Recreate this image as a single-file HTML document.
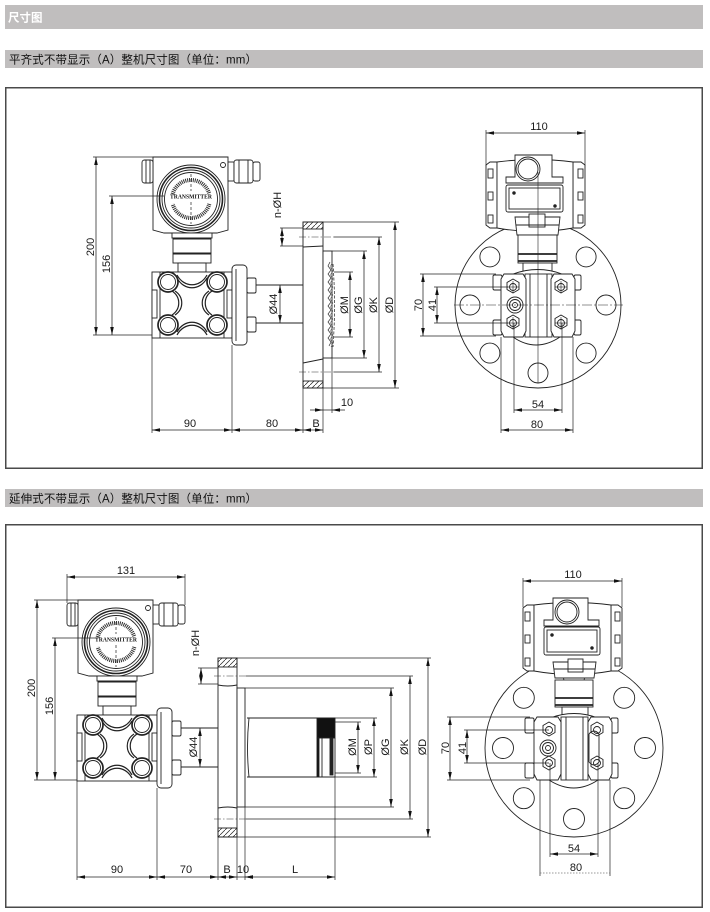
<!DOCTYPE html>
<html><head><meta charset="utf-8">
<style>
html,body{margin:0;padding:0;background:#fff;}
svg{display:block;}
.d{stroke:#222;stroke-width:.75;fill:none}
.e{stroke:#222;stroke-width:.7;fill:none}
.c{stroke:#333;stroke-width:.6;fill:none;stroke-dasharray:7 2 1.5 2}
.t{font-size:11px;fill:#1a1a1a;font-family:"Liberation Sans",sans-serif}
</style></head><body>
<svg width="710" height="912" viewBox="0 0 710 912" xmlns="http://www.w3.org/2000/svg">
<defs>
<marker id="ar" markerUnits="userSpaceOnUse" markerWidth="8" markerHeight="5" refX="8" refY="2.5" orient="auto-start-reverse"><path d="M0,0.7 L8,2.5 L0,4.3 z" fill="#111"/></marker>
<pattern id="h" patternUnits="userSpaceOnUse" width="5" height="5"><path d="M-1,6 L6,-1" stroke="#222" stroke-width="0.7"/></pattern>
</defs>
<rect width="710" height="912" fill="#fff"/>

<!-- header bars -->
<rect x="5" y="5" width="698" height="24" fill="#c0bebe"/>
<text x="8" y="21.5" font-size="11.5" font-weight="bold" fill="#fff" font-family="'Liberation Sans','Noto Sans CJK SC',sans-serif">尺寸图</text>
<rect x="5" y="50" width="698" height="18" fill="#c0bebe"/>
<text x="9" y="63.5" font-size="11.5" fill="#111" textLength="248" lengthAdjust="spacing" font-family="'Liberation Sans','Noto Sans CJK SC',sans-serif">平齐式不带显示（A）整机尺寸图（单位：mm）</text>
<rect x="5.75" y="87.75" width="696.5" height="380.5" fill="#fff" stroke="#4a4a4a" stroke-width="1.5"/>

<rect x="5" y="489" width="698" height="18" fill="#c0bebe"/>
<text x="9" y="502.5" font-size="11.5" fill="#111" textLength="248" lengthAdjust="spacing" font-family="'Liberation Sans','Noto Sans CJK SC',sans-serif">延伸式不带显示（A）整机尺寸图（单位：mm）</text>
<rect x="5.75" y="524.75" width="696.5" height="382.5" fill="#fff" stroke="#4a4a4a" stroke-width="1.5"/>

<!-- ================= DIAGRAM 1 SIDE ================= -->
<g transform="translate(153,157)" fill="#fff" stroke="#222" stroke-width="0.9">
  <path d="M0,0 H75 V73 L64,76 H11 L0,73 Z"/>
  <rect x="-11" y="3" width="11" height="23" rx="2.5"/>
  <line x1="-7" y1="3.5" x2="-7" y2="25.5"/>
  <line x1="-3" y1="3" x2="-3" y2="26"/>
  <rect x="75" y="5" width="6" height="19"/>
  <rect x="81" y="3" width="19" height="23" rx="2.5"/>
  <line x1="86" y1="3" x2="86" y2="26"/>
  <line x1="95" y1="3" x2="95" y2="26"/>
  <rect x="100" y="5" width="7" height="19" rx="2"/>
  <circle cx="70" cy="8" r="2.5"/>
  <circle cx="38" cy="42" r="34"/>
  <circle cx="38" cy="42" r="31.5" stroke-width="1.6"/>
  <circle cx="38" cy="42" r="29"/>
  <circle cx="38" cy="42" r="26.5"/>
  <path d="M19.65,37.08 A19,19 0 0 1 56.35,37.08" fill="none" stroke="#333" stroke-width="4" stroke-dasharray="1 0.9"/>
  <path d="M56.35,46.92 A19,19 0 0 1 19.65,46.92" fill="none" stroke="#333" stroke-width="4" stroke-dasharray="1 0.9"/>
  <line x1="38" y1="17" x2="38" y2="34" stroke-dasharray="3 2" stroke-width="0.7"/>
  <line x1="38" y1="45" x2="38" y2="67" stroke-dasharray="3 2" stroke-width="0.7"/>
  <text x="38" y="41.5" font-size="6.5" font-weight="bold" text-anchor="middle" fill="#111" stroke="none" textLength="42" lengthAdjust="spacingAndGlyphs" font-family="'Liberation Serif',serif">TRANSMITTER</text>
  <rect x="19" y="76" width="40" height="5"/>
  <rect x="20" y="81" width="38" height="15"/>
  <rect x="20" y="96" width="38" height="10"/>
  <line x1="20" y1="81.5" x2="58" y2="81.5" stroke-width="2"/>
  <line x1="20" y1="96.5" x2="58" y2="96.5" stroke-width="2"/>
  <rect x="25" y="106" width="28" height="9"/>
  <!-- capsule -->
  <rect x="-1" y="115" width="80" height="66"/>
  <line x1="7" y1="115" x2="7" y2="181"/>
  <line x1="71" y1="115" x2="71" y2="181"/>
  <rect x="-1" y="133" width="5" height="28"/>
  <rect x="74" y="133" width="5" height="28"/>
  <path d="M24,118 C31,131 47,131 54,118 M24,121 C31,134 47,134 54,121" fill="none" stroke-width="1.2"/>
  <path d="M24,178 C31,165 47,165 54,178 M24,175 C31,162 47,162 54,175" fill="none" stroke-width="1.2"/>
  <path d="M19,134 C28,140 28,152 19,158 M22,134 C31,140 31,152 22,158" fill="none" stroke-width="1.2"/>
  <path d="M59,134 C50,140 50,152 59,158 M56,134 C47,140 47,152 56,158" fill="none" stroke-width="1.2"/>
  <circle cx="15" cy="125" r="10" stroke-width="1.7"/><circle cx="15" cy="125" r="7.5"/>
  <circle cx="64" cy="125" r="10" stroke-width="1.7"/><circle cx="64" cy="125" r="7.5"/>
  <circle cx="15" cy="168" r="10" stroke-width="1.7"/><circle cx="15" cy="168" r="7.5"/>
  <circle cx="64" cy="168" r="10" stroke-width="1.7"/><circle cx="64" cy="168" r="7.5"/>
  <!-- process flange -->
  <rect x="79" y="108" width="15" height="80" rx="4"/>
  <line x1="83" y1="112" x2="83" y2="184"/>
  <rect x="94" y="121" width="9" height="15" rx="1.5"/>
  <rect x="94" y="160" width="9" height="15" rx="1.5"/>
</g>
<!-- pipe -->
<line class="e" x1="256" y1="285" x2="303" y2="285" style="stroke-width:.9"/>
<line class="e" x1="256" y1="323" x2="303" y2="323" style="stroke-width:.9"/>
<!-- mounting flange section -->
<g stroke="#222" stroke-width="0.9">
  <rect x="303" y="222" width="20" height="166" fill="#fff"/>
  <rect x="303" y="222" width="20" height="7" fill="url(#h)"/>
  <rect x="303" y="381" width="20" height="7" fill="url(#h)"/>
  <line x1="303" y1="247" x2="323" y2="246"/>
  <line x1="303" y1="363" x2="323" y2="359"/>
  <rect x="323" y="251" width="9" height="107" fill="#fff"/>
  <path d="M330,262 l-2,4 l3,4 l-3,4 l3,4 l-3,4 l3,4 l-3,4 l3,4 l-3,4 l3,4 l-3,4 l3,4 l-3,4 l3,4 l-3,4 l3,4 l-3,4 l3,4 l-3,4 l3,4 l-2,4" fill="none" stroke-width="0.7" stroke="#333"/>
  <path d="M332,263 l-2,4 l3,4 l-3,4 l3,4 l-3,4 l3,4 l-3,4 l3,4 l-3,4 l3,4 l-3,4 l3,4 l-3,4 l3,4 l-3,4 l3,4 l-3,4 l3,4 l-3,4 l3,4 l-2,4" fill="none" stroke-width="0.5" stroke="#555"/>
  <path d="M333,264 Q336,305 333,347" fill="none" stroke-width="0.7" stroke-dasharray="3 1.5"/>
</g>
<line class="c" x1="299" y1="237" x2="334" y2="237"/>
<line class="c" x1="299" y1="372" x2="334" y2="372"/>
<!-- dims right of flange -->
<line class="e" x1="323" y1="222" x2="399" y2="222"/>
<line class="e" x1="323" y1="388" x2="399" y2="388"/>
<line class="e" x1="334" y1="237" x2="382" y2="237"/>
<line class="e" x1="334" y1="372" x2="382" y2="372"/>
<line class="e" x1="332" y1="251" x2="367" y2="251"/>
<line class="e" x1="332" y1="358" x2="367" y2="358"/>
<line class="e" x1="334" y1="272" x2="353" y2="272"/>
<line class="e" x1="334" y1="337" x2="353" y2="337"/>
<line class="d" x1="395" y1="222" x2="395" y2="388" marker-start="url(#ar)" marker-end="url(#ar)"/>
<line class="d" x1="379" y1="237" x2="379" y2="372" marker-start="url(#ar)" marker-end="url(#ar)"/>
<line class="d" x1="364" y1="251" x2="364" y2="358" marker-start="url(#ar)" marker-end="url(#ar)"/>
<line class="d" x1="350" y1="272" x2="350" y2="337" marker-start="url(#ar)" marker-end="url(#ar)"/>
<text class="t" transform="translate(348,305) rotate(-90)" text-anchor="middle">ØM</text>
<text class="t" transform="translate(362,305) rotate(-90)" text-anchor="middle">ØG</text>
<text class="t" transform="translate(377,305) rotate(-90)" text-anchor="middle">ØK</text>
<text class="t" transform="translate(393,305) rotate(-90)" text-anchor="middle">ØD</text>
<!-- n-ØH -->
<line class="e" x1="280" y1="228" x2="303" y2="228"/>
<line class="e" x1="280" y1="246" x2="303" y2="246"/>
<line class="d" x1="282" y1="228" x2="282" y2="246" marker-start="url(#ar)" marker-end="url(#ar)"/>
<text class="t" transform="translate(281,205) rotate(-90)" text-anchor="middle">n-ØH</text>
<!-- Ø44 -->
<line class="d" x1="280" y1="285" x2="280" y2="323" marker-start="url(#ar)" marker-end="url(#ar)"/>
<text class="t" transform="translate(277,304) rotate(-90)" text-anchor="middle">Ø44</text>
<!-- 200 / 156 -->
<line class="e" x1="93" y1="157" x2="153" y2="157"/>
<line class="e" x1="93" y1="335" x2="152" y2="335"/>
<line class="e" x1="109" y1="196" x2="164" y2="196"/>
<line class="d" x1="96" y1="157" x2="96" y2="335" marker-start="url(#ar)" marker-end="url(#ar)"/>
<line class="d" x1="112" y1="196" x2="112" y2="335" marker-start="url(#ar)" marker-end="url(#ar)"/>
<text class="t" transform="translate(94,247) rotate(-90)" text-anchor="middle">200</text>
<text class="t" transform="translate(110,264) rotate(-90)" text-anchor="middle">156</text>
<!-- bottom dims -->
<line class="e" x1="152" y1="338" x2="152" y2="433"/>
<line class="e" x1="232" y1="345" x2="232" y2="433"/>
<line class="e" x1="303" y1="388" x2="303" y2="433"/>
<line class="e" x1="323" y1="388" x2="323" y2="433"/>
<line class="e" x1="332" y1="358" x2="332" y2="413"/>
<line class="d" x1="152" y1="430" x2="232" y2="430" marker-start="url(#ar)" marker-end="url(#ar)"/>
<line class="d" x1="232" y1="430" x2="303" y2="430" marker-start="url(#ar)" marker-end="url(#ar)"/>
<line class="d" x1="303" y1="430" x2="323" y2="430" marker-start="url(#ar)" marker-end="url(#ar)"/>
<line class="d" x1="310" y1="410" x2="323" y2="410" marker-end="url(#ar)"/>
<line class="d" x1="345" y1="410" x2="332" y2="410" marker-end="url(#ar)"/>
<line class="d" x1="323" y1="410" x2="332" y2="410"/>
<text class="t" x="190" y="427" text-anchor="middle">90</text>
<text class="t" x="272" y="427" text-anchor="middle">80</text>
<text class="t" x="316" y="427" text-anchor="middle">B</text>
<text class="t" x="347" y="406" text-anchor="middle">10</text>

<!-- ================= DIAGRAM 1 FRONT ================= -->
<g transform="translate(538,305)" fill="#fff" stroke="#222" stroke-width="0.9">
  <circle r="83"/>
  <circle cx="68" cy="0" r="10"/><circle cx="48.1" cy="48.1" r="10"/><circle cx="0" cy="68" r="10"/><circle cx="-48.1" cy="48.1" r="10"/>
  <circle cx="-68" cy="0" r="10"/><circle cx="-48.1" cy="-48.1" r="10"/><circle cx="0" cy="-68" r="10"/><circle cx="48.1" cy="-48.1" r="10"/>
  <!-- housing -->
  <path d="M-52,-140 L-48,-143 H-41 V-77 H-48 L-52,-80 Z"/>
  <rect x="-50" y="-136" width="5" height="9"/><rect x="-50" y="-113" width="5" height="8"/><rect x="-50" y="-90" width="5" height="8"/>
  <path d="M47,-140 L43,-143 H35 V-77 H43 L47,-80 Z"/>
  <rect x="40" y="-136" width="5" height="9"/><rect x="40" y="-113" width="5" height="8"/><rect x="40" y="-90" width="5" height="8"/>
  <path d="M-41,-143 Q-3,-148 35,-143 V-77 Q-3,-70 -41,-77 Z"/>
  <path d="M-23,-150 H14 V-128 H25 V-122 H-32 V-128 H-23 Z"/>
  <circle cx="-10" cy="-136" r="12"/><circle cx="-10" cy="-136" r="10"/>
  <rect x="-32" y="-120" width="57" height="27" rx="2"/>
  <rect x="-29" y="-117" width="51" height="21"/>
  <circle cx="-24" cy="-112" r="1.3" fill="#222"/><circle cx="17" cy="-99" r="1.3" fill="#222"/>
  <!-- neck -->
  <path d="M-23,-88 H22 L20,-70 H-21 Z"/>
  <rect x="-9" y="-91" width="16" height="13"/>
  <line x1="-22" y1="-80" x2="21" y2="-80"/>
  <rect x="-20" y="-70" width="39" height="28"/>
  <line x1="-20" y1="-51" x2="19" y2="-51" stroke-width="1.8"/>
  <line x1="-20" y1="-44" x2="19" y2="-44" stroke-width="1.8"/>
  <rect x="-15" y="-42" width="29" height="10"/>
  <path d="M-25,-31 Q0,-40 24,-31"/>
  <!-- capsule -->
  <path d="M-25,32 Q-2,48 22,32" />
  <rect x="-45" y="-30" width="9" height="15" rx="1.5"/><rect x="-45" y="15" width="9" height="15" rx="1.5"/>
  <rect x="36" y="-30" width="7" height="15" rx="1.5"/><rect x="36" y="15" width="7" height="15" rx="1.5"/>
  <rect x="-13" y="-31" width="27" height="63"/>
  <line x1="-8" y1="-31" x2="-8" y2="32"/><line x1="9" y1="-31" x2="9" y2="32"/>
  <path d="M-34,-31 H-15 L-12,-26 V26 L-15,32 H-34 L-37,26 V-26 Z"/>
  <path d="M16,-31 H34 L37,-26 V26 L34,32 H16 L13,26 V-26 Z"/>
  <path d="M-25,-26 l6,3.5 v7 l-6,3.5 l-6,-3.5 v-7 Z"/><circle cx="-25" cy="-18" r="3.5"/>
  <path d="M-25,10 l6,3.5 v7 l-6,3.5 l-6,-3.5 v-7 Z"/><circle cx="-25" cy="18" r="3.5"/>
  <path d="M23,-26 l6,3.5 v7 l-6,3.5 l-6,-3.5 v-7 Z"/><circle cx="23" cy="-18" r="3.5"/>
  <path d="M23,10 l6,3.5 v7 l-6,3.5 l-6,-3.5 v-7 Z"/><circle cx="23" cy="18" r="3.5"/>
  <circle cx="-23" cy="0" r="8"/><circle cx="-23" cy="0" r="5.5"/><circle cx="-23" cy="0" r="2.5"/>
  <line x1="-84" y1="0" x2="85" y2="0" stroke-width="0.6" stroke-dasharray="10 2 2 2"/>
  <line x1="0" y1="-133" x2="0" y2="78" stroke-width="0.6"/>
  <line x1="-25" y1="-24" x2="-25" y2="-12" stroke-width="0.6"/><line x1="-31" y1="-18" x2="-19" y2="-18" stroke-width="0.6"/>
  <line x1="-25" y1="12" x2="-25" y2="24" stroke-width="0.6"/><line x1="-31" y1="18" x2="-19" y2="18" stroke-width="0.6"/>
  <line x1="23" y1="-24" x2="23" y2="-12" stroke-width="0.6"/><line x1="17" y1="-18" x2="29" y2="-18" stroke-width="0.6"/>
  <line x1="23" y1="12" x2="23" y2="24" stroke-width="0.6"/><line x1="17" y1="18" x2="29" y2="18" stroke-width="0.6"/>
</g>
<!-- front dims 1 -->
<line class="e" x1="486" y1="130" x2="486" y2="166"/>
<line class="e" x1="585" y1="130" x2="585" y2="166"/>
<line class="d" x1="486" y1="133" x2="585" y2="133" marker-start="url(#ar)" marker-end="url(#ar)"/>
<text class="t" x="539" y="130" text-anchor="middle">110</text>
<line class="e" x1="420" y1="274" x2="496" y2="274"/>
<line class="e" x1="420" y1="336" x2="496" y2="336"/>
<line class="e" x1="434" y1="287" x2="508" y2="287"/>
<line class="e" x1="434" y1="323" x2="508" y2="323"/>
<line class="d" x1="423" y1="274" x2="423" y2="336" marker-start="url(#ar)" marker-end="url(#ar)"/>
<line class="d" x1="437" y1="287" x2="437" y2="323" marker-start="url(#ar)" marker-end="url(#ar)"/>
<text class="t" transform="translate(422,305) rotate(-90)" text-anchor="middle">70</text>
<text class="t" transform="translate(436,305) rotate(-90)" text-anchor="middle">41</text>
<line class="e" x1="501" y1="337" x2="501" y2="433"/>
<line class="e" x1="514" y1="323" x2="514" y2="413"/>
<line class="e" x1="562" y1="323" x2="562" y2="413"/>
<line class="e" x1="573" y1="337" x2="573" y2="433"/>
<line class="d" x1="514" y1="410" x2="562" y2="410" marker-start="url(#ar)" marker-end="url(#ar)"/>
<line class="d" x1="501" y1="430" x2="573" y2="430" marker-start="url(#ar)" marker-end="url(#ar)"/>
<text class="t" x="538" y="408" text-anchor="middle">54</text>
<text class="t" x="537" y="428" text-anchor="middle">80</text>

<!-- ================= DIAGRAM 2 SIDE ================= -->
<g transform="translate(78,600)" fill="#fff" stroke="#222" stroke-width="0.9">
  <path d="M0,0 H75 V73 L64,76 H11 L0,73 Z"/>
  <rect x="-11" y="3" width="11" height="23" rx="2.5"/>
  <line x1="-7" y1="3.5" x2="-7" y2="25.5"/>
  <line x1="-3" y1="3" x2="-3" y2="26"/>
  <rect x="75" y="5" width="6" height="19"/>
  <rect x="81" y="3" width="19" height="23" rx="2.5"/>
  <line x1="86" y1="3" x2="86" y2="26"/>
  <line x1="95" y1="3" x2="95" y2="26"/>
  <rect x="100" y="5" width="7" height="19" rx="2"/>
  <circle cx="70" cy="8" r="2.5"/>
  <circle cx="38" cy="42" r="34"/>
  <circle cx="38" cy="42" r="31.5" stroke-width="1.6"/>
  <circle cx="38" cy="42" r="29"/>
  <circle cx="38" cy="42" r="26.5"/>
  <path d="M19.65,37.08 A19,19 0 0 1 56.35,37.08" fill="none" stroke="#333" stroke-width="4" stroke-dasharray="1 0.9"/>
  <path d="M56.35,46.92 A19,19 0 0 1 19.65,46.92" fill="none" stroke="#333" stroke-width="4" stroke-dasharray="1 0.9"/>
  <line x1="38" y1="17" x2="38" y2="34" stroke-dasharray="3 2" stroke-width="0.7"/>
  <line x1="38" y1="45" x2="38" y2="67" stroke-dasharray="3 2" stroke-width="0.7"/>
  <text x="38" y="41.5" font-size="6.5" font-weight="bold" text-anchor="middle" fill="#111" stroke="none" textLength="42" lengthAdjust="spacingAndGlyphs" font-family="'Liberation Serif',serif">TRANSMITTER</text>
  <rect x="19" y="76" width="40" height="5"/>
  <rect x="20" y="81" width="38" height="15"/>
  <rect x="20" y="96" width="38" height="10"/>
  <line x1="20" y1="81.5" x2="58" y2="81.5" stroke-width="2"/>
  <line x1="20" y1="96.5" x2="58" y2="96.5" stroke-width="2"/>
  <rect x="25" y="106" width="28" height="9"/>
  <rect x="-1" y="115" width="80" height="66"/>
  <line x1="7" y1="115" x2="7" y2="181"/>
  <line x1="71" y1="115" x2="71" y2="181"/>
  <rect x="-1" y="133" width="5" height="28"/>
  <rect x="74" y="133" width="5" height="28"/>
  <path d="M24,118 C31,131 47,131 54,118 M24,121 C31,134 47,134 54,121" fill="none" stroke-width="1.2"/>
  <path d="M24,178 C31,165 47,165 54,178 M24,175 C31,162 47,162 54,175" fill="none" stroke-width="1.2"/>
  <path d="M19,134 C28,140 28,152 19,158 M22,134 C31,140 31,152 22,158" fill="none" stroke-width="1.2"/>
  <path d="M59,134 C50,140 50,152 59,158 M56,134 C47,140 47,152 56,158" fill="none" stroke-width="1.2"/>
  <circle cx="15" cy="125" r="10" stroke-width="1.7"/><circle cx="15" cy="125" r="7.5"/>
  <circle cx="64" cy="125" r="10" stroke-width="1.7"/><circle cx="64" cy="125" r="7.5"/>
  <circle cx="15" cy="168" r="10" stroke-width="1.7"/><circle cx="15" cy="168" r="7.5"/>
  <circle cx="64" cy="168" r="10" stroke-width="1.7"/><circle cx="64" cy="168" r="7.5"/>
  <rect x="79" y="108" width="15" height="80" rx="4"/>
  <line x1="83" y1="112" x2="83" y2="184"/>
  <rect x="94" y="121" width="9" height="15" rx="1.5"/>
  <rect x="94" y="160" width="9" height="15" rx="1.5"/>
</g>
<line class="e" x1="181" y1="728" x2="218" y2="728" style="stroke-width:.9"/>
<line class="e" x1="181" y1="767" x2="218" y2="767" style="stroke-width:.9"/>
<!-- mounting flange 2 -->
<g stroke="#222" stroke-width="0.9">
  <rect x="218" y="658" width="19" height="179" fill="#fff"/>
  <rect x="218" y="658" width="19" height="9" fill="url(#h)"/>
  <rect x="218" y="828" width="19" height="9" fill="url(#h)"/>
  <path d="M218,685 Q228,687 237,685" fill="none"/>
  <path d="M218,808 Q228,806 237,808" fill="none"/>
  <rect x="237" y="688" width="8" height="119" fill="#fff"/>
  <!-- tube -->
  <path d="M249,718 Q246,747 249,777" fill="none"/>
  <line x1="247" y1="718" x2="335" y2="718"/>
  <line x1="247" y1="777" x2="335" y2="777"/>
  <rect x="317" y="718" width="18" height="20" fill="#111"/>
  <rect x="317" y="738" width="2" height="39" fill="#111"/>
  <line x1="322" y1="738" x2="322" y2="777"/>
  <rect x="330" y="738" width="3" height="37" fill="#222"/>
  <line x1="335" y1="738" x2="335" y2="777"/>
</g>
<line class="c" x1="214" y1="676" x2="246" y2="676"/>
<line class="c" x1="214" y1="819" x2="246" y2="819"/>
<line class="e" x1="237" y1="658" x2="431" y2="658"/>
<line class="e" x1="237" y1="837" x2="431" y2="837"/>
<line class="e" x1="246" y1="676" x2="413" y2="676"/>
<line class="e" x1="246" y1="819" x2="413" y2="819"/>
<line class="e" x1="245" y1="688" x2="394" y2="688"/>
<line class="e" x1="245" y1="807" x2="394" y2="807"/>
<line class="e" x1="335" y1="718" x2="377" y2="718"/>
<line class="e" x1="335" y1="777" x2="377" y2="777"/>
<line class="e" x1="335" y1="722" x2="361" y2="722"/>
<line class="e" x1="335" y1="773" x2="361" y2="773"/>
<line class="d" x1="428" y1="658" x2="428" y2="837" marker-start="url(#ar)" marker-end="url(#ar)"/>
<line class="d" x1="410" y1="676" x2="410" y2="819" marker-start="url(#ar)" marker-end="url(#ar)"/>
<line class="d" x1="391" y1="688" x2="391" y2="807" marker-start="url(#ar)" marker-end="url(#ar)"/>
<line class="d" x1="374" y1="718" x2="374" y2="777" marker-start="url(#ar)" marker-end="url(#ar)"/>
<line class="d" x1="358" y1="722" x2="358" y2="773" marker-start="url(#ar)" marker-end="url(#ar)"/>
<text class="t" transform="translate(356,747) rotate(-90)" text-anchor="middle">ØM</text>
<text class="t" transform="translate(372,747) rotate(-90)" text-anchor="middle">ØP</text>
<text class="t" transform="translate(389,747) rotate(-90)" text-anchor="middle">ØG</text>
<text class="t" transform="translate(408,747) rotate(-90)" text-anchor="middle">ØK</text>
<text class="t" transform="translate(426,747) rotate(-90)" text-anchor="middle">ØD</text>
<!-- n-ØH 2 -->
<line class="e" x1="198" y1="668" x2="218" y2="668"/>
<line class="e" x1="198" y1="684" x2="218" y2="684"/>
<line class="d" x1="201" y1="668" x2="201" y2="684" marker-start="url(#ar)" marker-end="url(#ar)"/>
<text class="t" transform="translate(199,643) rotate(-90)" text-anchor="middle">n-ØH</text>
<!-- Ø44 2 -->
<line class="d" x1="200" y1="728" x2="200" y2="767" marker-start="url(#ar)" marker-end="url(#ar)"/>
<text class="t" transform="translate(197,747) rotate(-90)" text-anchor="middle">Ø44</text>
<!-- 131 / 200 / 156 -->
<line class="e" x1="67" y1="574" x2="67" y2="603"/>
<line class="e" x1="185" y1="574" x2="185" y2="605"/>
<line class="d" x1="67" y1="577" x2="185" y2="577" marker-start="url(#ar)" marker-end="url(#ar)"/>
<text class="t" x="126" y="574" text-anchor="middle">131</text>
<line class="e" x1="34" y1="600" x2="78" y2="600"/>
<line class="e" x1="34" y1="780" x2="77" y2="780"/>
<line class="e" x1="52" y1="638" x2="98" y2="638"/>
<line class="d" x1="37" y1="600" x2="37" y2="780" marker-start="url(#ar)" marker-end="url(#ar)"/>
<line class="d" x1="55" y1="638" x2="55" y2="780" marker-start="url(#ar)" marker-end="url(#ar)"/>
<text class="t" transform="translate(35,688) rotate(-90)" text-anchor="middle">200</text>
<text class="t" transform="translate(53,706) rotate(-90)" text-anchor="middle">156</text>
<!-- bottom dims 2 -->
<line class="e" x1="77" y1="781" x2="77" y2="880"/>
<line class="e" x1="157" y1="788" x2="157" y2="880"/>
<line class="e" x1="218" y1="837" x2="218" y2="880"/>
<line class="e" x1="237" y1="837" x2="237" y2="880"/>
<line class="e" x1="245" y1="807" x2="245" y2="880"/>
<line class="e" x1="335" y1="777" x2="335" y2="880"/>
<line class="d" x1="77" y1="877" x2="157" y2="877" marker-start="url(#ar)" marker-end="url(#ar)"/>
<line class="d" x1="157" y1="877" x2="218" y2="877" marker-start="url(#ar)" marker-end="url(#ar)"/>
<line class="d" x1="218" y1="877" x2="237" y2="877" marker-start="url(#ar)" marker-end="url(#ar)"/>
<line class="d" x1="237" y1="877" x2="245" y2="877"/>
<line class="d" x1="253" y1="877" x2="245" y2="877" marker-end="url(#ar)"/>
<line class="d" x1="245" y1="877" x2="335" y2="877" marker-start="url(#ar)" marker-end="url(#ar)"/>
<text class="t" x="117" y="873" text-anchor="middle">90</text>
<text class="t" x="186" y="873" text-anchor="middle">70</text>
<text class="t" x="227" y="873" text-anchor="middle">B</text>
<text class="t" x="243" y="873" text-anchor="middle">10</text>
<text class="t" x="295" y="873" text-anchor="middle">L</text>

<!-- ================= DIAGRAM 2 FRONT ================= -->
<g transform="translate(574,748)" fill="#fff" stroke="#222" stroke-width="0.9">
  <circle r="89"/>
  <circle cx="71" cy="0" r="10.5"/><circle cx="50.2" cy="50.2" r="10.5"/><circle cx="0" cy="71" r="10.5"/><circle cx="-50.2" cy="50.2" r="10.5"/>
  <circle cx="-71" cy="0" r="10.5"/><circle cx="-50.2" cy="-50.2" r="10.5"/><circle cx="0" cy="-71" r="10.5"/><circle cx="50.2" cy="-50.2" r="10.5"/>
  <path d="M-51,-140 L-47,-143 H-40 V-77 H-47 L-51,-80 Z"/>
  <rect x="-49" y="-136" width="5" height="9"/><rect x="-49" y="-113" width="5" height="8"/><rect x="-49" y="-90" width="5" height="8"/>
  <path d="M48,-140 L44,-143 H37 V-77 H44 L48,-80 Z"/>
  <rect x="41" y="-136" width="5" height="9"/><rect x="41" y="-113" width="5" height="8"/><rect x="41" y="-90" width="5" height="8"/>
  <path d="M-40,-143 Q-1,-148 37,-143 V-77 Q-1,-70 -40,-77 Z"/>
  <path d="M-21,-150 H14 V-128 H25 V-122 H-30 V-128 H-21 Z"/>
  <circle cx="-7" cy="-136" r="12"/><circle cx="-7" cy="-136" r="10"/>
  <rect x="-30" y="-121" width="56" height="28" rx="2"/>
  <rect x="-27" y="-118" width="50" height="22"/>
  <circle cx="-22" cy="-113" r="1.3" fill="#222"/><circle cx="18" cy="-100" r="1.3" fill="#222"/>
  <path d="M-21,-86 H22 L20,-70 H-19 Z"/>
  <rect x="-6" y="-89" width="15" height="13"/>
  <line x1="-20" y1="-79" x2="21" y2="-79"/>
  <rect x="-19" y="-68" width="38" height="27"/>
  <line x1="-19" y1="-50" x2="19" y2="-50" stroke-width="1.8"/>
  <line x1="-19" y1="-43" x2="19" y2="-43" stroke-width="1.8"/>
  <rect x="-12" y="-41" width="26" height="10"/>
  <path d="M-24,-30 Q0,-39 24,-30"/>
  <path d="M-25,32 Q0,48 24,32"/>
  <rect x="-49" y="-30" width="9" height="15" rx="1.5"/><rect x="-49" y="15" width="9" height="15" rx="1.5"/>
  <rect x="37" y="-30" width="7" height="15" rx="1.5"/><rect x="37" y="15" width="7" height="15" rx="1.5"/>
  <rect x="-13" y="-31" width="27" height="63"/>
  <line x1="-8" y1="-31" x2="-8" y2="32"/><line x1="9" y1="-31" x2="9" y2="32"/>
  <path d="M-37,-31 H-16 L-13,-26 V26 L-16,32 H-37 L-40,26 V-26 Z"/>
  <path d="M17,-31 H35 L38,-26 V26 L35,32 H17 L14,26 V-26 Z"/>
  <path d="M-25,-26 l6,3.5 v7 l-6,3.5 l-6,-3.5 v-7 Z"/><circle cx="-25" cy="-18" r="3.5"/>
  <path d="M-25,8 l6,3.5 v7 l-6,3.5 l-6,-3.5 v-7 Z"/><circle cx="-25" cy="15" r="3.5"/>
  <path d="M23,-26 l6,3.5 v7 l-6,3.5 l-6,-3.5 v-7 Z"/><circle cx="23" cy="-18" r="3.5"/>
  <path d="M23,8 l6,3.5 v7 l-6,3.5 l-6,-3.5 v-7 Z"/><circle cx="23" cy="15" r="3.5"/>
  <circle cx="-26" cy="0" r="8"/><circle cx="-26" cy="0" r="5.5"/><circle cx="-26" cy="0" r="2.5"/>
  <path d="M15,-14 Q20,-20 25,-14 V14 Q20,20 15,14 Z" fill="none"/>
</g>
<!-- front dims 2 -->
<line class="e" x1="523" y1="578" x2="523" y2="607"/>
<line class="e" x1="622" y1="578" x2="622" y2="607"/>
<line class="d" x1="523" y1="581" x2="622" y2="581" marker-start="url(#ar)" marker-end="url(#ar)"/>
<text class="t" x="573" y="578" text-anchor="middle">110</text>
<line class="e" x1="447" y1="717" x2="530" y2="717"/>
<line class="e" x1="447" y1="780" x2="530" y2="780"/>
<line class="e" x1="464" y1="730" x2="549" y2="730"/>
<line class="e" x1="464" y1="763" x2="549" y2="763"/>
<line class="d" x1="450" y1="717" x2="450" y2="780" marker-start="url(#ar)" marker-end="url(#ar)"/>
<line class="d" x1="467" y1="730" x2="467" y2="763" marker-start="url(#ar)" marker-end="url(#ar)"/>
<text class="t" transform="translate(449,748) rotate(-90)" text-anchor="middle">70</text>
<text class="t" transform="translate(466,748) rotate(-90)" text-anchor="middle">41</text>
<line class="e" x1="540" y1="780" x2="540" y2="876"/>
<line class="e" x1="550" y1="763" x2="550" y2="857"/>
<line class="e" x1="598" y1="763" x2="598" y2="857"/>
<line class="e" x1="610" y1="780" x2="610" y2="876"/>
<line class="d" x1="550" y1="854" x2="598" y2="854" marker-start="url(#ar)" marker-end="url(#ar)"/>
<line x1="540" y1="873" x2="610" y2="873" stroke="#777" stroke-width="0.8" stroke-dasharray="1.5 1.5"/>
<text class="t" x="574" y="852" text-anchor="middle">54</text>
<text class="t" x="576" y="871" text-anchor="middle">80</text>
</svg>
</body></html>
